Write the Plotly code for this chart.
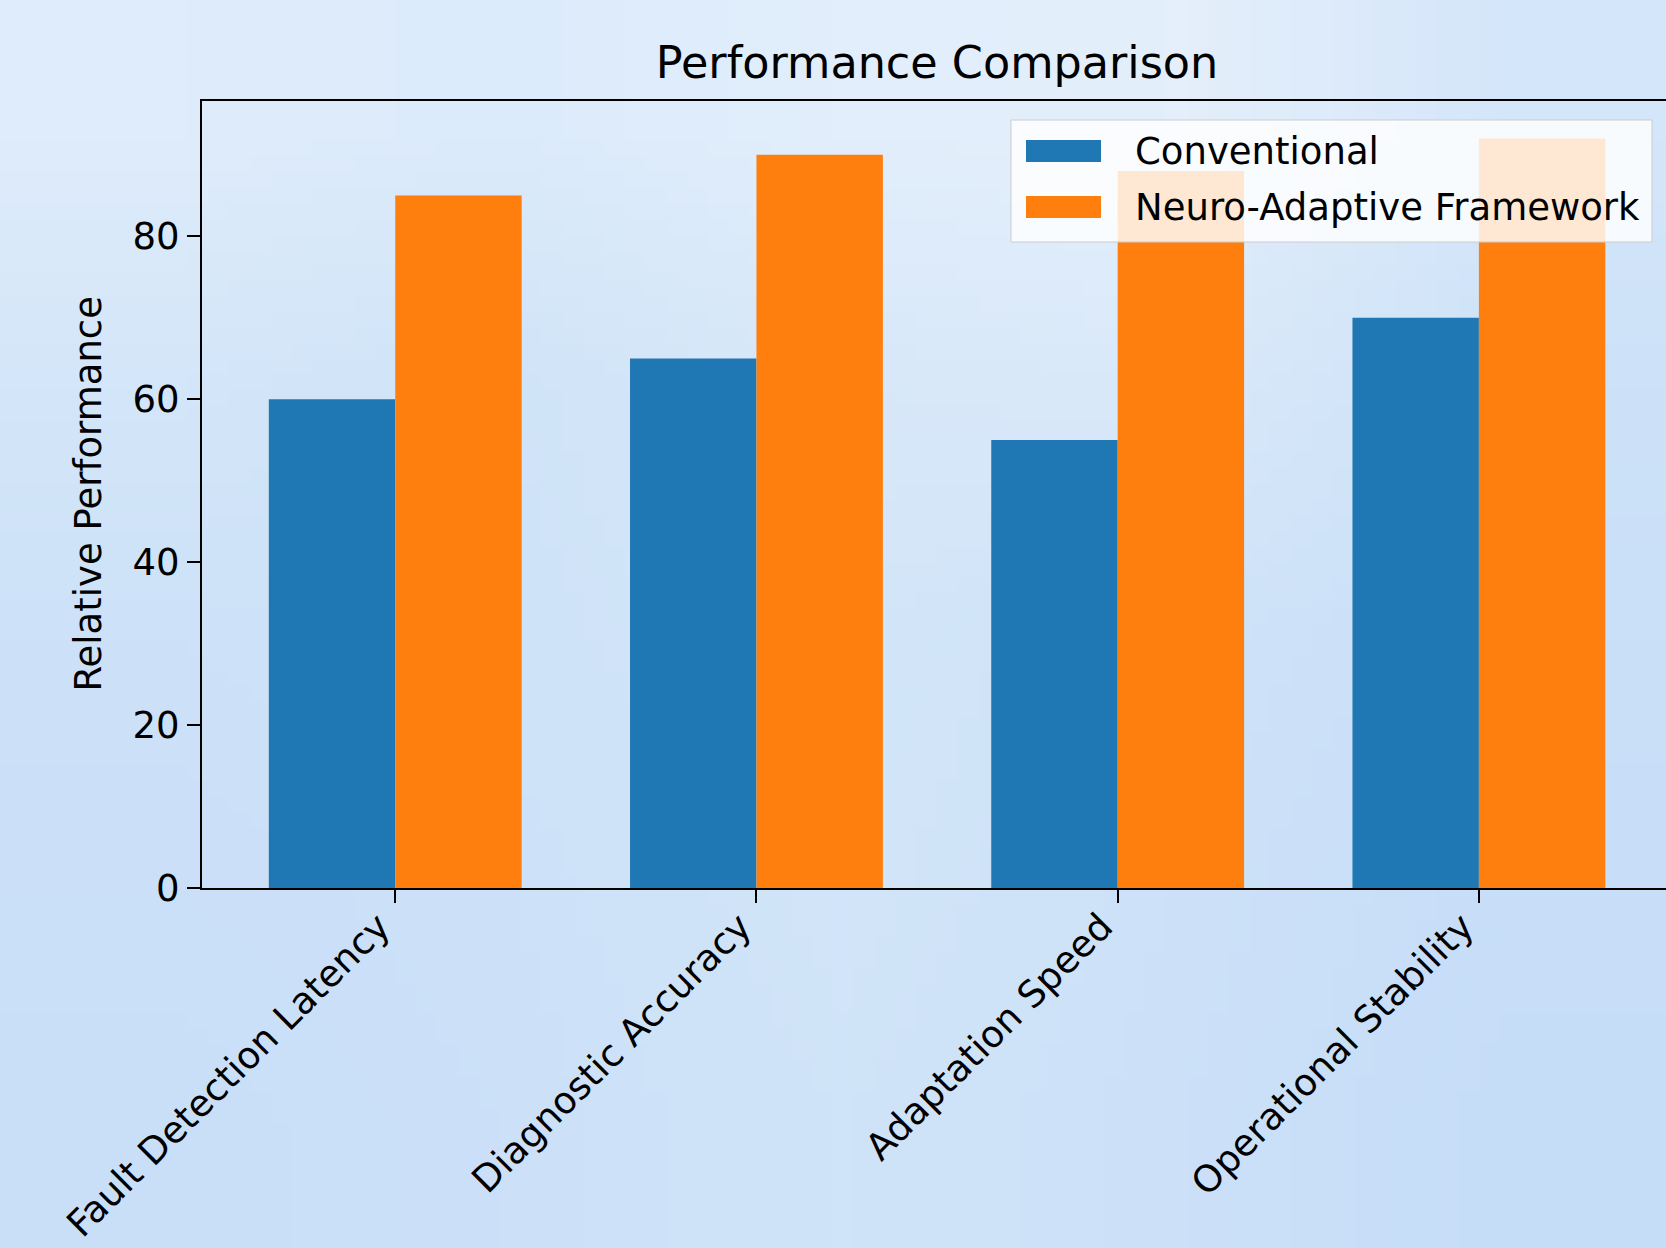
import base64
import struct
import zlib

import plotly.graph_objects as go

categories = ["Fault Detection Latency", "Diagnostic Accuracy", "Adaptation Speed", "Operational Stability"]
conventional = [60, 65, 55, 70]
neuro_adaptive = [85, 90, 88, 92]
series_names = ["Conventional", "Neuro-Adaptive Framework"]
y_ticks = [0, 20, 40, 60, 80]

BLUE = "#1f77b4"
ORANGE = "#ff7f0e"
FONT = "DejaVu Sans"
FS = 37

W, H = 1666, 1248
L, R, T, B = 202, 0, 101, 360
PW, PH = W - L - R, H - T - B


def px(xp):
    return (xp - L) / PW


def py(yp):
    return (H - B - yp) / PH


# soft light-blue background (small image, stretched smoothly by the browser)
def make_png(rows):
    h = len(rows)
    w = len(rows[0])
    raw = b""
    for row in rows:
        raw += b"\x00"
        for c in row:
            c = c.lstrip("#")
            raw += bytes(int(c[i:i + 2], 16) for i in (0, 2, 4))

    def chunk(tag, data):
        return struct.pack(">I", len(data)) + tag + data + struct.pack(">I", zlib.crc32(tag + data) & 0xffffffff)

    png = b"\x89PNG\r\n\x1a\n"
    png += chunk(b"IHDR", struct.pack(">IIBBBBB", w, h, 8, 2, 0, 0, 0))
    png += chunk(b"IDAT", zlib.compress(raw))
    png += chunk(b"IEND", b"")
    return "data:image/png;base64," + base64.b64encode(png).decode()


bg_rows = [
    ["#dfecfb", "#dcebfb", "#e2eefb", "#e4effb", "#d4e6fa"],
    ["#d4e6f9", "#d0e4f8", "#d8e8f9", "#dae9fa", "#cde2f8"],
    ["#cde2f8", "#cfe3f8", "#d3e6f9", "#cfe3f8", "#cae0f8"],
    ["#cbe0f8", "#cde2f8", "#d2e5f9", "#cde2f8", "#c8def8"],
    ["#c9dff8", "#cce1f8", "#d0e4f9", "#cce1f8", "#c6ddf8"],
]
bg_src = make_png(bg_rows)

fig = go.Figure()
fig.add_trace(go.Bar(x=categories, y=conventional, name=series_names[0],
                     marker=dict(color=BLUE, line=dict(width=0))))
fig.add_trace(go.Bar(x=categories, y=neuro_adaptive, name=series_names[1],
                     marker=dict(color=ORANGE, line=dict(width=0))))

# matplotlib-style legend: box, wide swatches, labels
shapes = [dict(type="rect", xref="paper", yref="paper", layer="above",
               x0=px(1011), x1=px(1652), y0=py(242), y1=py(120),
               fillcolor="rgba(255,255,255,0.82)", line=dict(color="#cccccc", width=1))]
annotations = []
row_centers = [151, 207]
for nm, col, yc in zip(series_names, [BLUE, ORANGE], row_centers):
    shapes.append(dict(type="rect", xref="paper", yref="paper", layer="above",
                       x0=px(1026), x1=px(1101), y0=py(yc + 11), y1=py(yc - 11),
                       fillcolor=col, line=dict(width=0)))
    annotations.append(dict(text=nm, xref="paper", yref="paper", x=px(1133), y=py(yc),
                            xanchor="left", yanchor="middle", showarrow=False,
                            font=dict(size=FS, family=FONT, color="black")))

annotations.append(dict(text="Relative Performance", xref="paper", yref="paper",
                        x=px(88), y=0.5, xanchor="center", yanchor="middle",
                        textangle=-90, showarrow=False,
                        font=dict(size=FS, family=FONT, color="black")))

fig.update_layout(
    width=W, height=H,
    margin=dict(l=L, r=R, t=T, b=B, autoexpand=False),
    paper_bgcolor="#d0e4f8",
    plot_bgcolor="rgba(0,0,0,0)",
    images=[dict(source=bg_src, xref="paper", yref="paper",
                 x=-L / PW, y=1 + T / PH, sizex=W / PW, sizey=H / PH,
                 xanchor="left", yanchor="top", sizing="stretch", layer="below")],
    barmode="group", bargap=0.3, bargroupgap=0,
    font=dict(family=FONT, size=FS, color="black"),
    title=dict(text="Performance Comparison", x=937 / W, xanchor="center",
               y=1 - 62 / H, yanchor="middle", font=dict(size=44.5, family=FONT, color="black")),
    showlegend=False,
    xaxis=dict(range=[-0.535, 3.518], showline=True, linecolor="black", linewidth=2,
               mirror=True, ticks="outside", ticklen=13, tickwidth=2, tickcolor="black",
               tickangle=-45, ticklabelshift=-16, ticklabelstandoff=-13,
               showgrid=False, zeroline=False,
               tickfont=dict(size=FS, family=FONT, color="black")),
    yaxis=dict(range=[0, 96.6], tickvals=y_ticks, showline=True, linecolor="black", linewidth=2,
               ticks="outside", ticklen=13, tickwidth=2, tickcolor="black",
               showgrid=False, zeroline=False,
               tickfont=dict(size=FS, family=FONT, color="black")),
    shapes=shapes,
    annotations=annotations,
)

fig.write_html("out.html", config={"displayModeBar": False},
               post_script="document.body.style.margin='0px';document.body.style.overflow='hidden';")
